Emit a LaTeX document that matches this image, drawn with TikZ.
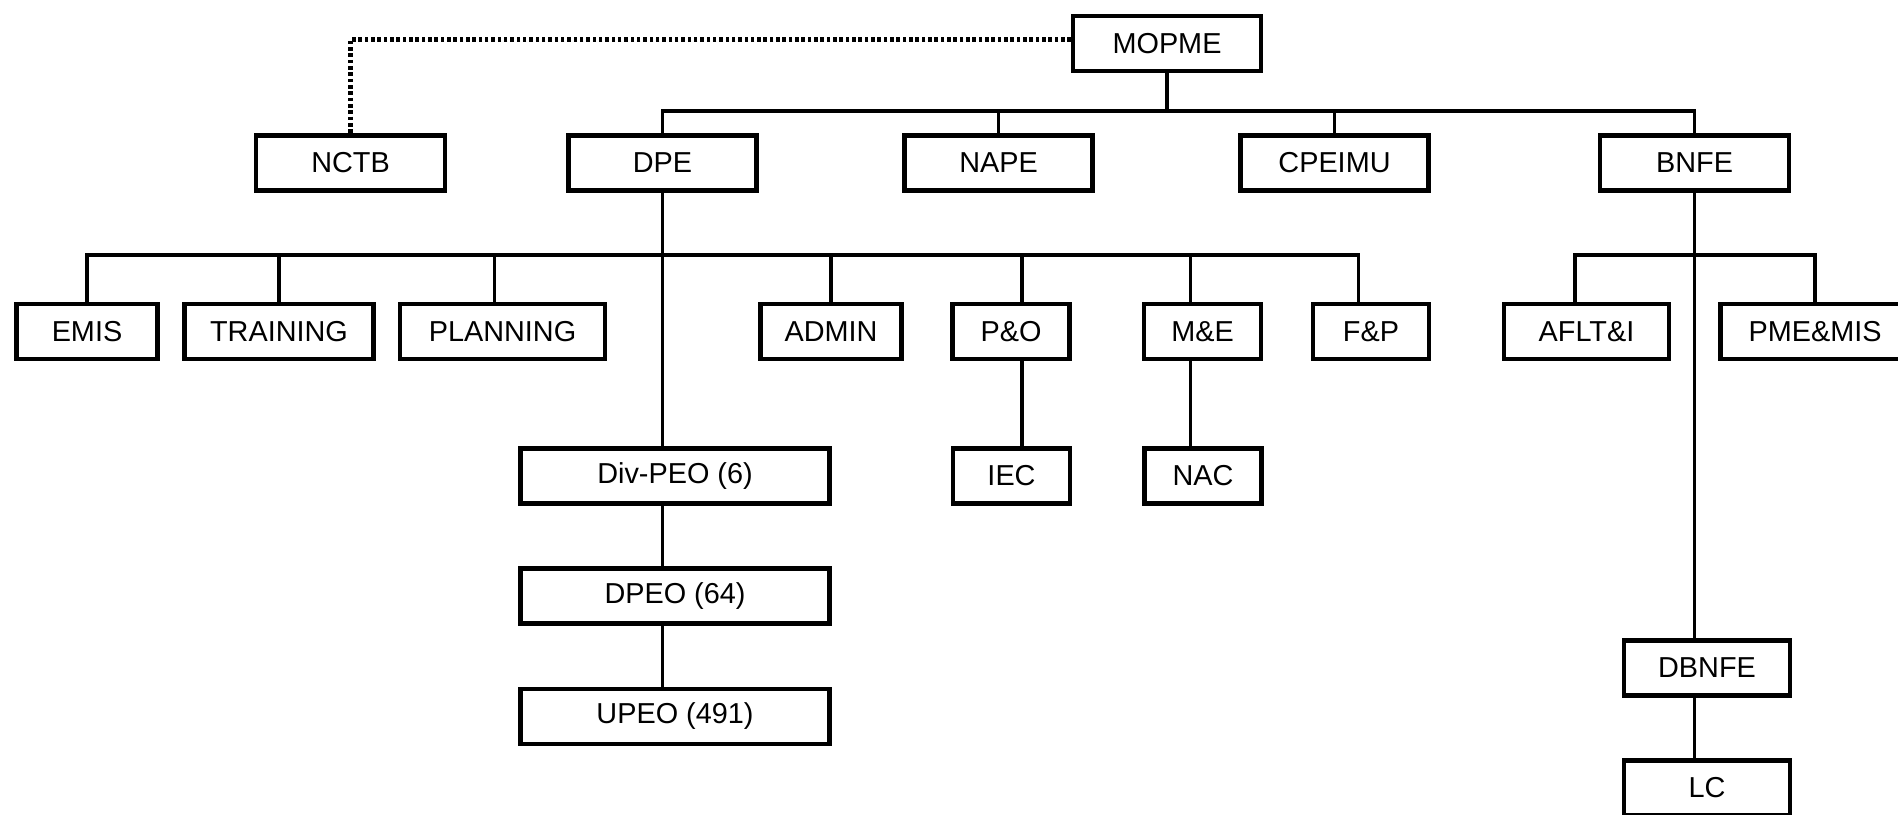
\documentclass[tikz,border=0pt]{standalone}
\usepackage{fontspec}
\setmainfont{Liberation Sans}
\begin{document}
\begin{tikzpicture}[x=0.01cm,y=-0.01cm,
  unit/.style={draw,line width=1.2pt,inner sep=0pt,minimum height=0.55cm,font=\fontsize{8.2}{10}\selectfont},
  link/.style={line width=0.95pt,line cap=rect}]
  \useasboundingbox (0,0) rectangle (1898,814);
  % 顶层
  \node[unit,minimum width=1.88cm] (mopme) at (1167,43.5) {MOPME};
  % 第二层
  \node[unit,minimum width=1.89cm] (nctb) at (350.5,163) {NCTB};
  \node[unit,minimum width=1.88cm] (dpe) at (662.5,163) {DPE};
  \node[unit,minimum width=1.88cm] (nape) at (998.5,163) {NAPE};
  \node[unit,minimum width=1.88cm] (cpeimu) at (1334.5,163) {CPEIMU};
  \node[unit,minimum width=1.89cm] (bnfe) at (1694.5,163) {BNFE};
  % 第三层
  \node[unit,minimum width=1.41cm] (emis) at (87,331.5) {EMIS};
  \node[unit,minimum width=1.89cm] (training) at (279,331.5) {TRAINING};
  \node[unit,minimum width=2.05cm] (planning) at (502.5,331.5) {PLANNING};
  \node[unit,minimum width=1.41cm] (admin) at (831,331.5) {ADMIN};
  \node[unit,minimum width=1.17cm] (po) at (1011,331.5) {P\&O};
  \node[unit,minimum width=1.17cm] (me) at (1202.5,331.5) {M\&E};
  \node[unit,minimum width=1.16cm] (fp) at (1371,331.5) {F\&P};
  \node[unit,minimum width=1.65cm] (aflti) at (1586.5,331.5) {AFLT\&I};
  \node[unit,minimum width=1.89cm] (pmemis) at (1815,331.5) {PME\&MIS};
  % 下属
  \node[unit,minimum width=1.17cm] (iec) at (1011.5,476) {IEC};
  \node[unit,minimum width=1.17cm] (nac) at (1203,476) {NAC};
  \node[unit,minimum width=3.09cm] (divpeo) at (675,476) {Div-PEO (6)};
  \node[unit,minimum width=3.09cm] (dpeo) at (675,596) {DPEO (64)};
  \node[unit,minimum width=3.09cm] (upeo) at (675,716.5) {UPEO (491)};
  \node[unit,minimum width=1.66cm] (dbnfe) at (1707,668) {DBNFE};
  \node[unit,minimum width=1.66cm] (lc) at (1707,788) {LC};
  % 连线
  \coordinate (dots) at (0,39.5);
  \coordinate (bus1) at (0,111);
  \coordinate (bus2) at (0,255);
  \coordinate (k-plan) at (494.6,255);
  \coordinate (k-po) at (1022,255);
  \coordinate (k-me) at (1190.6,255);
  \coordinate (k-fp) at (1358.5,255);
  \coordinate (k-afl) at (1575,255);
  \draw[line width=1.35pt,dash pattern=on 1pt off 0.8pt] (mopme.west |- dots) -| (nctb.north);
  \draw[link] (mopme.south) -- (mopme.south |- bus1);
  \draw[link] (dpe.north) |- (bnfe.north |- bus1) -- (bnfe.north);
  \draw[link] (nape.north |- bus1) -- (nape.north);
  \draw[link] (cpeimu.north |- bus1) -- (cpeimu.north);
  \draw[link] (emis.north) |- (k-fp) -- (k-fp |- fp.north);
  \draw[link] (training.north |- bus2) -- (training.north);
  \draw[link] (k-plan) -- (k-plan |- planning.north);
  \draw[link] (admin.north |- bus2) -- (admin.north);
  \draw[link] (k-po) -- (k-po |- po.north);
  \draw[link] (k-me) -- (k-me |- me.north);
  \draw[link] (k-po |- po.south) -- (k-po |- iec.north);
  \draw[link] (k-me |- me.south) -- (k-me |- nac.north);
  \draw[link] (dpe.south) -- (dpe.south |- divpeo.north);
  \draw[link] (dpe.south |- divpeo.south) -- (dpe.south |- dpeo.north);
  \draw[link] (dpe.south |- dpeo.south) -- (dpe.south |- upeo.north);
  \draw[link] (aflti.north -| k-afl) |- (pmemis.north |- bus2) -- (pmemis.north);
  \draw[link] (bnfe.south) -- (bnfe.south |- dbnfe.north);
  \draw[link] (bnfe.south |- dbnfe.south) -- (bnfe.south |- lc.north);
\end{tikzpicture}
\end{document}
